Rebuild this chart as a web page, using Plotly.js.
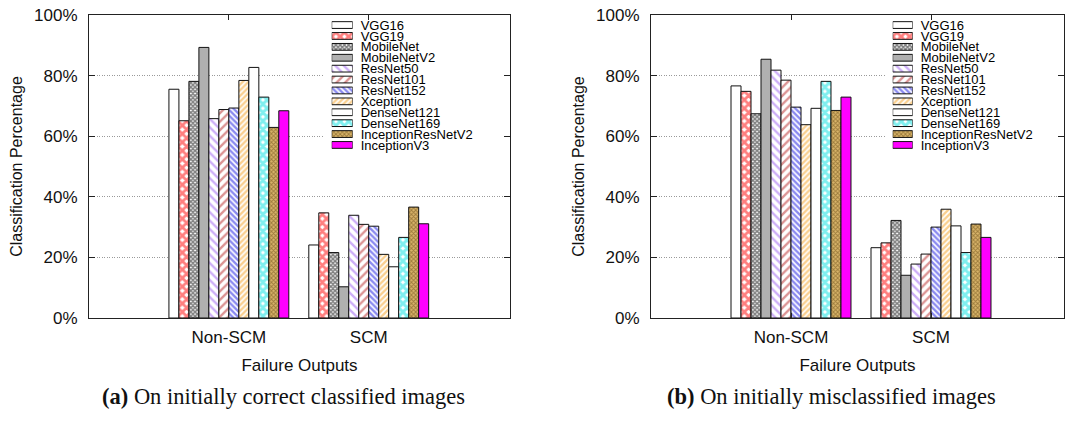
<!DOCTYPE html>
<html>
<head>
<meta charset="utf-8">
<script src="https://cdn.plot.ly/plotly-3.0.1.min.js"></script>
<style>html,body{margin:0;padding:0;background:#fff}#chart{width:1065px;height:424px}</style>
</head>
<body>
<div id="chart"></div>
<script>
// ---- data ----
var models = ["VGG16","VGG19","MobileNet","MobileNetV2","ResNet50","ResNet101","ResNet152","Xception","DenseNet121","DenseNet169","InceptionResNetV2","InceptionV3"];
var categories = ["Non-SCM","SCM"];
var tickLabelsY = ["0%","20%","40%","60%","80%","100%"];
var tickValsY = [0,20,40,60,80,100];
// (a) On initially correct classified images: [Non-SCM, SCM]
var correctNonSCM = [75.5,65.1,78.1,89.3,65.8,68.8,69.3,78.4,82.7,72.9,62.9,68.4];
var correctSCM    = [24.1,34.7,21.6,10.3,33.9,30.9,30.3,21.0,16.9,26.6,36.6,31.1];
// (b) On initially misclassified images
var misNonSCM = [76.6,74.8,67.4,85.4,81.8,78.5,69.6,63.8,69.2,78.1,68.5,72.9];
var misSCM    = [23.2,24.8,32.2,14.1,17.8,21.1,30.0,35.9,30.4,21.6,31.0,26.6];
var captionA = "On initially correct classified images";
var captionB = "On initially misclassified images";

// ---- styles ----
var styles = [
  {bg:"#ffffff"},
  {bg:"#ffffff", pat:{shape:"x", fgcolor:"#ff0000", size:6, solidity:0.72}},
  {bg:"#ffffff", pat:{shape:"x", fgcolor:"#000000", size:3, solidity:0.75}},
  {bg:"#b0b0b0"},
  {bg:"#ffffff", pat:{shape:"\\", fgcolor:"#9a5cf0", size:6, solidity:0.4}},
  {bg:"#ffffff", pat:{shape:"/", fgcolor:"#b82828", size:6, solidity:0.4}},
  {bg:"#ffffff", pat:{shape:"\\", fgcolor:"#1414e0", size:4, solidity:0.6}},
  {bg:"#ffffff", pat:{shape:"/", fgcolor:"#f5a020", size:4, solidity:0.6}},
  {bg:"#ffffff"},
  {bg:"#ffffff", pat:{shape:"x", fgcolor:"#00e0e0", size:6, solidity:0.75}},
  {bg:"#d8b46a", pat:{shape:"x", fgcolor:"#5e400c", size:3, solidity:0.5}},
  {bg:"#ff00ff"}
];
function mk(i){
  var m = {color: styles[i].bg, line:{color:"#111111", width:1}};
  if (styles[i].pat){
    var p = styles[i].pat;
    m.pattern = {shape:p.shape, fgcolor:p.fgcolor, bgcolor:styles[i].bg, size:p.size, solidity:p.solidity, fillmode:"overlay"};
  }
  return m;
}

var traces = [];
function addChart(nonScm, scm, xa, ya){
  for (var i=0;i<models.length;i++){
    traces.push({type:"bar", name:models[i], x:[0,1], y:[nonScm[i], scm[i]], xaxis:xa, yaxis:ya,
      marker:mk(i), showlegend:false, hoverinfo:"name+y"});
  }
}
addChart(correctNonSCM, correctSCM, "x", "y");
addChart(misNonSCM, misSCM, "x2", "y2");
function addLegend(xa, ya){
  for (var i=0;i<models.length;i++){
    traces.push({type:"bar", orientation:"h", name:models[i], x:[1], y:[i], base:0, width:0.62, offset:-0.31,
      xaxis:xa, yaxis:ya, marker:mk(i), showlegend:false, hoverinfo:"skip"});
  }
}
addLegend("x3","y3");
addLegend("x4","y4");

var W=1065, H=424;
function px(x){return x/W;}
function py(y){return 1-y/H;}
var font = "Liberation Sans, Arial, Helvetica, sans-serif";

function xAxis(dom, rng){
  return {domain:dom, range:rng, tickvals:[0,1], ticktext:categories, showline:true, linecolor:"#222", linewidth:1,
    mirror:"ticks", ticks:"inside", ticklen:5, tickcolor:"#222", showgrid:false, zeroline:false, ticklabelstandoff:4,
    tickfont:{family:font, size:17, color:"#111"},
    title:{text:"Failure Outputs", font:{family:font, size:17, color:"#111"}, standoff:12}};
}
function yAxis(dom, anchor){
  return {domain:dom, anchor:anchor, range:[0,100], tickvals:tickValsY, ticktext:tickLabelsY, showline:true, linecolor:"#222", linewidth:1,
    mirror:"ticks", ticks:"inside", ticklen:6, tickcolor:"#222", showgrid:true, gridcolor:"#9a9a9a", griddash:"1px,1.5px", gridwidth:1,
    zeroline:false, ticklabelstandoff:7, tickfont:{family:font, size:17, color:"#111"},
    title:{text:"Classification Percentage", font:{family:font, size:16, color:"#111"}, standoff:7}};
}
function legX(dom, anchor){
  return {domain:dom, anchor:anchor, range:[0,1], visible:false, fixedrange:true};
}
function legY(dom, anchor){
  return {domain:dom, anchor:anchor, range:[11.5,-0.5], tickvals:models.map(function(_,i){return i;}), ticktext:models,
    side:"right", showline:false, showgrid:false, zeroline:false, ticks:"", ticklabelstandoff:7,
    tickfont:{family:font, size:13, color:"#000"}, fixedrange:true};
}

var legYDom = [py(150.4), py(19.6)];
var capFont = {family:"Liberation Serif, Times New Roman, serif", size:22.5, color:"#111"};
var layout = {
  width:W, height:H, margin:{l:0,r:0,t:0,b:0}, paper_bgcolor:"#fff", plot_bgcolor:"rgba(0,0,0,0)",
  barmode:"group", bargap:0.143, bargroupgap:0, showlegend:false,
  xaxis: xAxis([px(89), px(510)], [-1,2.01]),
  yaxis: yAxis([py(318), py(15)], "x"),
  xaxis2: Object.assign(xAxis([px(651), px(1064)], [-1,1.95]), {anchor:"y2"}),
  yaxis2: yAxis([py(318), py(15)], "x2"),
  xaxis3: legX([px(331.7), px(352.7)], "y3"),
  yaxis3: legY(legYDom, "x3"),
  xaxis4: legX([px(892.7), px(912.7)], "y4"),
  yaxis4: legY(legYDom, "x4"),
  shapes:[
    {type:"rect", xref:"x", yref:"y", x0:0.68, x1:1.96, y0:53, y1:99.7, fillcolor:"#fff", line:{width:0}, layer:"between"},
    {type:"rect", xref:"x2", yref:"y2", x0:0.677, x1:1.9, y0:53, y1:99.7, fillcolor:"#fff", line:{width:0}, layer:"between"}
  ],
  annotations:[
    {xref:"paper", yref:"paper", x:px(283), y:py(396), xanchor:"center", yanchor:"middle", showarrow:false,
     text:"<b>(a)</b> "+captionA, font:capFont},
    {xref:"paper", yref:"paper", x:px(831), y:py(396), xanchor:"center", yanchor:"middle", showarrow:false,
     text:"<b>(b)</b> "+captionB, font:capFont}
  ]
};
Plotly.newPlot("chart", traces, layout, {staticPlot:true, displayModeBar:false});
</script>
</body>
</html>
